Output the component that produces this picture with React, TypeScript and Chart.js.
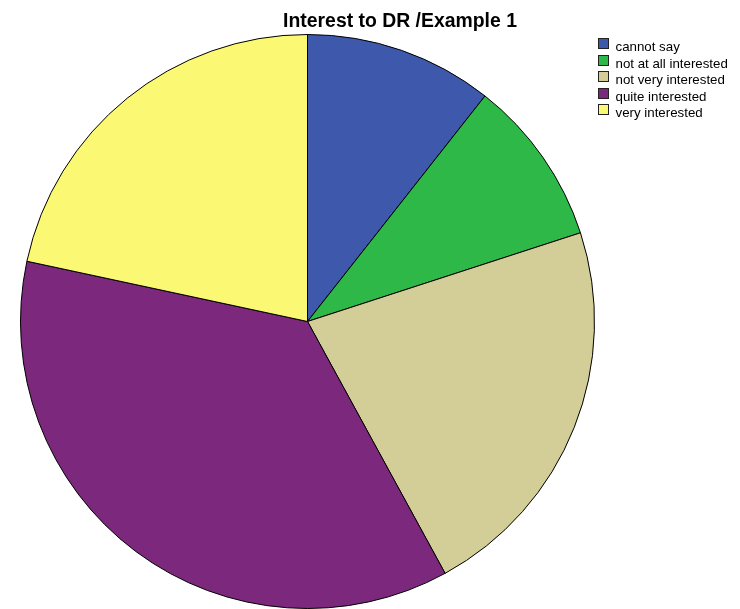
import React, { useEffect, useRef } from "react";
import { Chart, registerables } from "chart.js";

Chart.register(...registerables);

const titleText = "Interest to DR /Example 1";
const categories = [
  "cannot say",
  "not at all interested",
  "not very interested",
  "quite interested",
  "very interested",
];
const counts = [26, 23, 54, 89, 53];
const colors = ["#3E58AC", "#2EB848", "#D3CE97", "#7C287D", "#FBF873"];

const overlayPlugin = {
  id: "overlay",
  afterDraw(chart: any) {
    const ctx = chart.ctx as CanvasRenderingContext2D;
    ctx.save();
    ctx.fillStyle = "#000";
    ctx.font = "bold 19.4px 'Liberation Sans', Arial, sans-serif";
    ctx.textAlign = "center";
    ctx.textBaseline = "alphabetic";
    ctx.fillText(titleText, 400, 27);

    const labels = chart.data.labels as string[];
    const bg = chart.data.datasets[0].backgroundColor as string[];
    ctx.font = "13.3px 'Liberation Sans', Arial, sans-serif";
    ctx.textAlign = "left";
    labels.forEach((lab, i) => {
      const top = Math.round(38 + i * 16.5);
      ctx.fillStyle = bg[i];
      ctx.fillRect(598, top, 11, 11);
      ctx.strokeStyle = "#222";
      ctx.lineWidth = 1;
      ctx.strokeRect(598.5, top + 0.5, 10, 10);
      ctx.fillStyle = "#000";
      ctx.fillText(lab, 615.5, top + 12.5);
    });
    ctx.restore();
  },
};

export default function App() {
  const ref = useRef<HTMLCanvasElement | null>(null);
  useEffect(() => {
    if (!ref.current) return;
    const chart = new Chart(ref.current, {
      type: "pie",
      data: {
        labels: categories,
        datasets: [
          {
            data: counts,
            backgroundColor: colors,
            borderColor: "#000",
            borderWidth: 1,
          },
        ],
      },
      options: {
        responsive: false,
        animation: false,
        layout: { padding: { left: 20, top: 34, right: 145, bottom: 0 } },
        plugins: {
          legend: { display: false },
          title: { display: false },
          tooltip: { enabled: false },
        },
      },
      plugins: [overlayPlugin],
    });
    return () => chart.destroy();
  }, []);
  return (
    <div style={{ position: "fixed", left: 0, top: 0, width: 740, height: 609, background: "#fff" }}>
      <canvas ref={ref} width={740} height={609} style={{ width: 740, height: 609, display: "block" }} />
    </div>
  );
}
